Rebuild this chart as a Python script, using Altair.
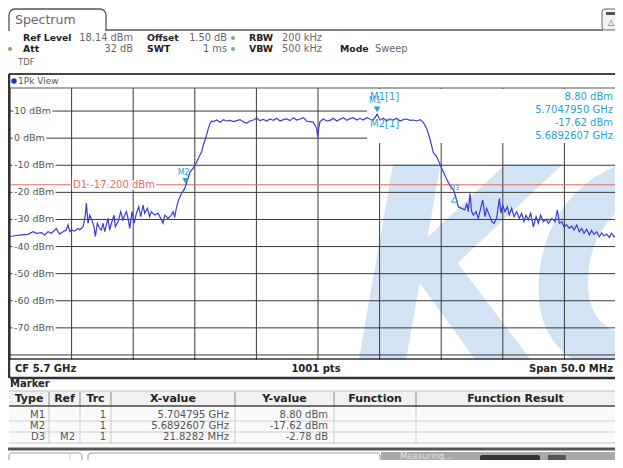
import altair as alt
import pandas as pd

# ------------------------------------------------------------------ data
CENTER_MHZ = 5700.0
SPAN_MHZ = 50.0
REF_LEVEL_DBM = 18.14
BOTTOM_LEVEL_DBM = -81.86

# trace: offset from start frequency (MHz) and level (dBm)
trace_offset_mhz = [
    0.00, 0.38, 0.92, 1.46, 1.87, 2.14, 2.55, 2.82, 3.09, 3.36, 3.76, 3.90, 4.03, 4.30,
    4.57, 4.71, 4.85, 4.98, 5.25, 5.52, 5.66, 5.93, 6.12, 6.20, 6.33, 6.47, 6.60, 6.82,
    6.93, 7.09, 7.28, 7.42, 7.55, 7.69, 7.82, 7.96, 8.09, 8.23, 8.44, 8.55, 8.77, 8.99,
    9.17, 9.31, 9.45, 9.58, 9.72, 9.90, 10.07, 10.26, 10.45, 10.61, 10.80, 10.93, 11.15,
    11.34, 11.47, 11.74, 12.02, 12.23, 12.42, 12.56, 12.83, 13.10, 13.23, 13.37, 13.50,
    13.64, 13.91, 14.13, 14.26, 14.45, 14.60, 14.87, 15.14, 15.29, 15.42, 15.56, 15.69,
    15.83, 15.96, 16.10, 16.24, 16.37,
    16.51, 16.78, 17.05, 17.32, 17.59, 17.86, 18.13, 18.40, 18.67, 18.94, 19.21, 19.48,
    19.75, 20.02, 20.29, 20.56, 20.83, 21.11, 21.38, 21.65, 21.92, 22.19, 22.46, 22.73,
    23.00, 23.27, 23.54, 23.81, 24.08, 24.35, 24.62, 24.89, 24.97, 25.06, 25.16, 25.43,
    25.70, 25.98, 26.25, 26.52, 26.79, 27.06, 27.33, 27.60, 27.87, 28.14, 28.41, 28.68,
    28.95, 29.22, 29.49, 29.80, 30.03, 30.30, 30.57, 30.85, 31.12, 31.39, 31.66, 31.93,
    32.20, 32.47, 32.74, 33.01, 33.28, 33.55,
    33.82, 34.09, 34.36, 34.63, 34.90, 35.17, 35.44, 35.72, 35.99, 36.09, 36.20, 36.39,
    36.66, 36.93, 37.07, 37.20, 37.34, 37.47, 37.61, 37.83, 38.01, 38.20, 38.37, 38.56,
    38.69, 38.91, 39.10, 39.29, 39.50, 39.72, 39.85, 39.99, 40.18, 40.37, 40.53, 40.72,
    40.91, 41.13, 41.34, 41.53, 41.72, 41.88, 42.07, 42.26, 42.48, 42.70, 42.89, 43.07,
    43.29, 43.51, 43.70, 43.97, 44.24, 44.43, 44.59, 44.78, 44.97, 45.18, 45.40, 45.59,
    45.78, 46.00, 46.21, 46.40, 46.59, 46.81, 47.02, 47.21, 47.40, 47.62, 47.84, 48.03,
    48.22, 48.43, 48.65, 48.84, 49.03, 49.24, 49.51, 49.76, 50.00,
]
trace_level_dbm = [
    -36.3, -36.0, -35.7, -35.5, -34.5, -35.1, -34.9, -35.7, -34.5, -35.1, -33.3, -34.5, -35.4, -34.5,
    -33.9, -32.0, -34.5, -33.9, -34.3, -33.3, -33.9, -32.7, -28.4, -24.0, -31.4, -28.4, -29.6, -32.7,
    -36.3, -31.4, -33.3, -33.9, -31.4, -34.5, -32.0, -29.6, -33.9, -31.4, -28.4, -32.7, -30.8, -27.1,
    -30.2, -28.4, -27.1, -29.6, -33.3, -27.1, -31.4, -27.7, -25.3, -29.0, -24.7, -27.7, -25.9,
    -29.0, -27.1, -28.4, -27.7, -29.6, -31.4, -28.4, -29.6, -28.4, -27.1, -29.0, -25.9,
    -23.4, -20.4, -19.0, -17.62, -14.8, -12.6, -11.1, -9.0, -7.4, -6.2, -5.0, -2.5,
    -0.7, 1.2, 3.6, 5.5, 6.3,
    6.09, 6.70, 5.84, 6.83, 6.34, 6.58, 6.09, 6.46, 6.83, 6.09, 5.48, 6.34,
    6.70, 7.32, 6.46, 6.95, 6.34, 7.07, 6.58, 7.32, 6.34, 6.83, 7.07, 6.46,
    7.57, 6.70, 7.07, 7.57, 6.34, 6.09, 5.84, 3.63, 0.55, 3.63, 6.09, 7.07,
    6.34, 6.58, 7.32, 6.34, 6.95, 7.57, 6.58, 7.20, 7.57, 6.70, 7.32, 6.70,
    7.57, 7.07, 6.70, 8.80, 6.70, 7.32, 6.34, 7.07, 6.70, 7.32, 6.34, 6.83,
    7.07, 6.58, 6.70, 6.34, 6.83, 5.84,
    3.6, -0.4, -5.3, -6.8, -9.6, -12.4, -15.1, -17.6, -18.9, -20.4, -22.0, -25.3,
    -25.9, -26.5, -24.1, -27.1, -20.4, -27.1, -28.4, -27.1, -29.6, -25.9, -22.8, -29.0,
    -25.9, -28.4, -30.8, -31.4, -29.6, -22.2, -27.7, -24.7, -27.1, -25.3, -28.4, -25.9,
    -29.0, -27.1, -29.6, -27.7, -30.8, -28.4, -30.2, -27.7, -32.7, -29.0, -31.4, -28.4,
    -30.8, -29.9, -31.4, -29.6, -30.8, -26.5, -31.4, -30.8, -32.7, -32.0, -33.3, -32.4,
    -33.9, -32.0, -34.5, -33.3, -35.1, -33.6, -35.7, -34.1, -35.5, -34.5, -36.4, -34.9,
    -36.1, -35.4, -36.6, -35.1, -36.4, -35.7, -36.6, -35.9, -36.2,
]

marker_names = ["M1", "M2", "D3"]
marker_freq_mhz = [5704.795, 5689.2607, 5711.0889]
marker_level_dbm = [8.80, -17.62, -20.40]

d1_level_dbm = -17.2
d1_label = "D1 -17.200 dBm"

y_tick_dbm = [10, 0, -10, -20, -30, -40, -50, -60, -70]
y_tick_labels = ["10 dBm", "0 dBm", "-10 dBm", "-20 dBm", "-30 dBm", "-40 dBm",
                 "-50 dBm", "-60 dBm", "-70 dBm"]
grid_h_dbm = [10, 0, -10, -20, -30, -40, -50, -60, -70, -80]
grid_v_mhz = [5675, 5680, 5685, 5690, 5695, 5700, 5705, 5710, 5715, 5720, 5725]

marker_info_labels = ["M1[1]", "M2[1]"]
marker_info_values = ["8.80 dBm", "5.7047950 GHz", "-17.62 dBm", "5.6892607 GHz"]

table_columns = ["Type", "Ref", "Trc", "X-value", "Y-value", "Function", "Function Result"]
table_type = ["M1", "M2", "D3"]
table_ref = ["", "", "M2"]
table_trc = ["1", "1", "1"]
table_x = ["5.704795 GHz", "5.6892607 GHz", "21.8282 MHz"]
table_y = ["8.80 dBm", "-17.62 dBm", "-2.78 dB"]

# ------------------------------------------------------------------ helpers
O = 8  # page margin: reference pixel -> view pixel
FONT = "DejaVu Sans"
one = pd.DataFrame({"k": [0]})

xs = alt.Scale(domain=[CENTER_MHZ - SPAN_MHZ / 2, CENTER_MHZ + SPAN_MHZ / 2],
               range=[10 - O, 626 - O], nice=False, zero=False)
ys = alt.Scale(domain=[BOTTOM_LEVEL_DBM, REF_LEVEL_DBM],
               range=[360 - O, 89 - O], nice=False, zero=False)


def T(s, x, y, size=10, color="#333333", weight="normal", align="left",
      font=FONT, style="normal", baseline="middle", opacity=1.0):
    return alt.Chart(one).mark_text(
        text=s, align=align, baseline=baseline, fontSize=size, color=color,
        fontWeight=weight, font=font, fontStyle=style, opacity=opacity
    ).encode(x=alt.value(x - O), y=alt.value(y - O))


def R(x1, y1, x2, y2, fill="white", stroke=None, sw=1.0, radius=0):
    kw = dict(fill=fill, cornerRadius=radius)
    if stroke:
        kw.update(stroke=stroke, strokeWidth=sw)
    else:
        kw.update(strokeWidth=0)
    return alt.Chart(one).mark_rect(**kw).encode(
        x=alt.value(x1 - O), x2=alt.value(x2 - O),
        y=alt.value(y1 - O), y2=alt.value(y2 - O))


def L(x1, y1, x2, y2, color="#444444", w=1.0):
    return alt.Chart(one).mark_rule(color=color, strokeWidth=w).encode(
        x=alt.value(x1 - O), x2=alt.value(x2 - O),
        y=alt.value(y1 - O), y2=alt.value(y2 - O))


def DOT(x, y, color, size=18, shape="circle"):
    return alt.Chart(one).mark_point(filled=True, color=color, size=size, shape=shape,
                                     opacity=1).encode(
        x=alt.value(x - O), y=alt.value(y - O))


layers = []

# ------------------------------------------------------------------ watermark
layers.append(T("KC", 352, 368, size=280, color="#d2e3f3", weight="bold", style="italic",
                baseline="alphabetic",
                font="Liberation Sans Narrow, DejaVu Sans Condensed, Liberation Sans"))

# ------------------------------------------------------------------ grid
vdf = pd.DataFrame({"f": grid_v_mhz})
layers.append(alt.Chart(vdf).mark_rule(color="#3a3a3a", strokeWidth=1).encode(
    x=alt.X("f:Q", scale=xs, axis=None), y=alt.value(88 - O), y2=alt.value(360 - O)))
hdf = pd.DataFrame({"lv": grid_h_dbm})
layers.append(alt.Chart(hdf).mark_rule(color="#3a3a3a", strokeWidth=1).encode(
    y=alt.Y("lv:Q", scale=ys, axis=None), x=alt.value(10 - O), x2=alt.value(626 - O)))
layers.append(L(10, 88, 626, 88, "#555555", 1.2))

# marker-info area (hides the grid under the readout)
layers.append(R(367, 89, 626, 143, "white"))

# y labels (with white halo)
ydf = pd.DataFrame({"lv": y_tick_dbm, "lab": y_tick_labels})
layers.append(alt.Chart(ydf).mark_text(align="left", baseline="middle", fontSize=9.5,
                                       font=FONT, stroke="white", strokeWidth=4,
                                       color="white").encode(
    y=alt.Y("lv:Q", scale=ys, axis=None), x=alt.value(14 - O), text="lab:N"))
layers.append(alt.Chart(ydf).mark_text(align="left", baseline="middle", fontSize=9.5,
                                       font=FONT, color="#555555").encode(
    y=alt.Y("lv:Q", scale=ys, axis=None), x=alt.value(14 - O), text="lab:N"))

# D1 display line
d1df = pd.DataFrame({"lv": [d1_level_dbm], "lab": [d1_label]})
layers.append(alt.Chart(d1df).mark_rule(color="#e46a6a", strokeWidth=1.2).encode(
    y=alt.Y("lv:Q", scale=ys, axis=None), x=alt.value(10 - O), x2=alt.value(626 - O)))
layers.append(alt.Chart(d1df).mark_text(align="left", baseline="middle", fontSize=10,
                                        font=FONT, stroke="white", strokeWidth=4,
                                        color="white").encode(
    y=alt.Y("lv:Q", scale=ys, axis=None), x=alt.value(73 - O), text="lab:N"))
layers.append(alt.Chart(d1df).mark_text(align="left", baseline="middle", fontSize=10,
                                        font=FONT, color="#e46a6a").encode(
    y=alt.Y("lv:Q", scale=ys, axis=None), x=alt.value(73 - O), text="lab:N"))

# ------------------------------------------------------------------ trace
start = CENTER_MHZ - SPAN_MHZ / 2
tdf = pd.DataFrame({"f": [start + o for o in trace_offset_mhz], "lv": trace_level_dbm})
layers.append(alt.Chart(tdf).mark_line(color="#3b3bd4", strokeWidth=1.2).encode(
    x=alt.X("f:Q", scale=xs, axis=None), y=alt.Y("lv:Q", scale=ys, axis=None)))

# ------------------------------------------------------------------ markers
mdf = pd.DataFrame({"name": marker_names, "f": marker_freq_mhz, "lv": marker_level_dbm})
MC = "#2a9fd6"
normal = mdf[mdf["name"] != "D3"]
delta = mdf[mdf["name"] == "D3"]
layers.append(alt.Chart(normal).mark_point(shape="triangle-down", filled=True, size=45,
                                           color=MC, opacity=1, yOffset=-5).encode(
    x=alt.X("f:Q", scale=xs, axis=None), y=alt.Y("lv:Q", scale=ys, axis=None)))
layers.append(alt.Chart(normal).mark_text(fontSize=8, color=MC, font=FONT, yOffset=-13,
                                          dx=-2).encode(
    x=alt.X("f:Q", scale=xs, axis=None), y=alt.Y("lv:Q", scale=ys, axis=None),
    text="name:N"))
layers.append(alt.Chart(delta).mark_point(shape="triangle-up", filled=False, size=40,
                                          color=MC, opacity=1, strokeWidth=1,
                                          yOffset=6).encode(
    x=alt.X("f:Q", scale=xs, axis=None), y=alt.Y("lv:Q", scale=ys, axis=None)))
layers.append(alt.Chart(delta).mark_text(fontSize=7, color=MC, font=FONT,
                                         yOffset=-5).encode(
    x=alt.X("f:Q", scale=xs, axis=None), y=alt.Y("lv:Q", scale=ys, axis=None),
    text="name:N"))

# marker readout
layers.append(T(marker_info_labels[0], 370, 97, 10, MC))
layers.append(T(marker_info_labels[1], 370, 124, 10, MC))
for i, yy in enumerate([97, 110, 123, 136]):
    layers.append(T(marker_info_values[i], 613, yy, 10, MC, align="right"))

# ------------------------------------------------------------------ panel frame
layers.append(L(10, 359, 626, 359, "#333333", 1.5))
layers.append(R(10, 360, 626, 377, "white"))
layers.append(L(10, 378, 626, 378, "#333333", 2.5))
layers.append(L(9, 74, 9, 378, "#333333", 2.5))
layers.append(L(9, 74, 626, 74, "#444444", 2))
layers.append(DOT(14, 81, "#2233bb", 30))
layers.append(T("1Pk View", 18, 81, 9, "#555555"))
layers.append(T("CF 5.7 GHz", 15, 369, 10, "#222222", "bold"))
layers.append(T("1001 pts", 316, 369, 10, "#222222", "bold", align="center"))
layers.append(T("Span 50.0 MHz", 613, 369, 10, "#222222", "bold", align="right"))

# ------------------------------------------------------------------ header
layers.append(R(9, 9, 106, 45, "white", "#555555", 1.3, 6))
layers.append(R(7, 31, 108, 47, "white"))
layers.append(L(106, 30, 603, 30, "#555555", 1.3))
layers.append(R(602, 9, 622, 30, "#f2f2f2", "#666666", 1, 3))
layers.append(R(606, 12, 616, 15, "#555555"))
layers.append(T("\u25b3", 611, 23, 8, "#555555", align="center"))
layers.append(T("Spectrum", 15, 20, 12.5, "#666666"))

HB, HV = "#222222", "#666666"
HS = 9.3
layers.append(T("Ref Level", 23, 38, HS, HB, "bold"))
layers.append(T("18.14 dBm", 133, 38, 9.8, HV, align="right"))
layers.append(T("Offset", 147, 38, HS, HB, "bold"))
layers.append(T("1.50 dB", 227, 38, 9.8, HV, align="right"))
layers.append(DOT(233, 38, "#77b26a", 16))
layers.append(T("RBW", 249, 38, HS, HB, "bold"))
layers.append(T("200 kHz", 282, 38, 9.8, HV))

layers.append(DOT(10, 49, "#77b26a", 16))
layers.append(T("Att", 23, 49, HS, HB, "bold"))
layers.append(T("32 dB", 133, 49, 9.8, HV, align="right"))
layers.append(T("SWT", 147, 49, HS, HB, "bold"))
layers.append(T("1 ms", 227, 49, 9.8, HV, align="right"))
layers.append(DOT(233, 49, "#77b26a", 16))
layers.append(T("VBW", 249, 49, HS, HB, "bold"))
layers.append(T("500 kHz", 282, 49, 9.8, HV))
layers.append(T("Mode", 340, 49, HS, HB, "bold"))
layers.append(T("Sweep", 375, 49, 9.8, HV))
layers.append(T("TDF", 18, 62, 8.5, HV))

# ------------------------------------------------------------------ marker table
col_edges = [9, 49, 80, 111, 235, 334, 416, 626]
layers.append(T("Marker", 10, 384, 10, HB, "bold"))
layers.append(R(9, 391, 626, 406, "#f1f1f1"))
layers.append(R(9, 406, 626, 444, "#fafafa"))
layers.append(L(9, 391, 626, 391, "#bbbbbb", 1))
for xe in col_edges[1:-1]:
    layers.append(L(xe, 392, xe, 406, "#888888", 1))
    layers.append(L(xe, 406, xe, 444, "#cccccc", 1))
layers.append(L(9, 406, 626, 406, "#444444", 1.5))
for yy in [421, 432, 443]:
    layers.append(L(9, yy, 626, yy, "#cccccc", 1))
for i, name in enumerate(table_columns):
    cx = (col_edges[i] + min(col_edges[i + 1], 615)) / 2
    layers.append(T(name, cx, 398.5, 11, HB, "bold", align="center"))
TV = "#555555"
for r, yy in enumerate([415, 426, 437]):
    layers.append(T(table_type[r], 45, yy, 10, TV, align="right"))
    if table_ref[r]:
        layers.append(T(table_ref[r], 75, yy, 10, TV, align="right"))
    layers.append(T(table_trc[r], 106, yy, 10, TV, align="right"))
    layers.append(T(table_x[r], 229, yy, 10, TV, align="right"))
    layers.append(T(table_y[r], 328, yy, 10, TV, align="right"))
layers.append(L(8, 449, 626, 449, "#555555", 3))

# ------------------------------------------------------------------ status bar
layers.append(R(9, 453, 82, 470, "white", "#999999", 1, 3))
layers.append(L(70, 454, 70, 468, "#cccccc", 1))
layers.append(R(88, 453, 380, 470, "white", "#999999", 1, 3))
layers.append(R(381, 452, 626, 470, "#a9a9a9"))
layers.append(T("Measuring...", 400, 456, 8.5, "#e6e6e6"))
layers.append(R(480, 455, 540, 465, "#333333", radius=2))
layers.append(R(548, 455, 566, 465, "#555555"))

chart = alt.layer(*layers).properties(
    width=607, height=452, padding=0,
    autosize=alt.AutoSizeParams(type="none"),
).configure_view(stroke=None)

chart.save("out.html", embed_options={"renderer": "svg", "actions": False})
